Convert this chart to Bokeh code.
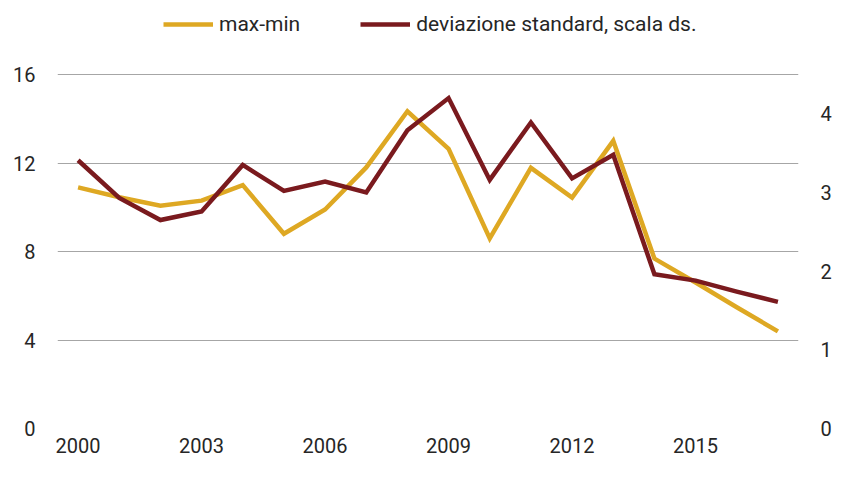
from bokeh.plotting import figure
from bokeh.models import Range1d, LinearAxis, FixedTicker, Legend, LegendItem
from bokeh.embed import file_html
from bokeh.resources import INLINE

years = list(range(2000, 2018))
max_min = [10.9, 10.45, 10.07, 10.3, 11.0, 8.8, 9.9, 11.8, 14.34, 12.64,
           8.59, 11.78, 10.44, 13.0, 7.68, 6.6, 5.48, 4.39]
dev_std = [3.41, 2.93, 2.65, 2.76, 3.35, 3.02, 3.14, 3.0, 3.79, 4.2,
           3.16, 3.89, 3.18, 3.48, 1.96, 1.88, 1.74, 1.61]
x_ticks = [2000, 2003, 2006, 2009, 2012, 2015]
left_ticks = [0, 4, 8, 12, 16]
right_ticks = [0, 1, 2, 3, 4]

FONT = "Roboto"
TXT = "#262626"
YEL = "#DEA823"
RED = "#7A1A1E"

W, H = 834, 463
BOTTOM = 35
FRAME_H = H - BOTTOM            # 428
SPAN = FRAME_H - 74             # pixels used by 0..16 (legend sits above)
LEFT_TOP = 16 * FRAME_H / SPAN
RIGHT_TOP = 4.5 * FRAME_H / SPAN

p = figure(width=W, height=H, output_backend="svg", toolbar_location=None,
           x_range=Range1d(1999.5, 2017.5), y_range=Range1d(0, LEFT_TOP),
           min_border_left=57, min_border_right=36, min_border_top=0,
           min_border_bottom=BOTTOM)
p.extra_y_ranges = {"sd": Range1d(0, RIGHT_TOP)}
p.outline_line_color = None
p.background_fill_color = "white"
p.border_fill_color = "white"

r1 = p.line(years, max_min, line_color=YEL, line_width=4.5, line_join="miter")
r2 = p.line(years, dev_std, line_color=RED, line_width=4.5, line_join="miter",
            y_range_name="sd")

p.xgrid.visible = False
p.ygrid.ticker = FixedTicker(ticks=left_ticks)
p.ygrid.grid_line_color = "#A6A6A6"
p.ygrid.grid_line_width = 1.2
p.ygrid.level = "underlay"

def style(ax, standoff):
    ax.axis_line_color = None
    ax.major_tick_line_color = None
    ax.minor_tick_line_color = None
    ax.major_tick_out = 0
    ax.major_tick_in = 0
    ax.minor_tick_out = 0
    ax.major_label_text_font = FONT
    ax.major_label_text_font_size = "20px"
    ax.major_label_text_color = TXT
    ax.major_label_standoff = standoff

style(p.xaxis[0], 9)
p.xaxis[0].ticker = FixedTicker(ticks=x_ticks)
style(p.yaxis[0], 22)
p.yaxis[0].ticker = FixedTicker(ticks=left_ticks)

ra = LinearAxis(y_range_name="sd", ticker=FixedTicker(ticks=right_ticks))
style(ra, 22)
p.add_layout(ra, "right")

legend = Legend(items=[LegendItem(label="max-min", renderers=[r1]),
                       LegendItem(label="deviazione standard, scala ds.", renderers=[r2])],
                orientation="horizontal", location=(106, FRAME_H - 36))
legend.label_text_font = FONT
legend.label_text_font_size = "21px"
legend.label_text_color = TXT
legend.glyph_width = 50
legend.glyph_height = 20
legend.label_standoff = 6
legend.spacing = 60
legend.border_line_color = None
legend.background_fill_alpha = 0
legend.padding = 0
legend.margin = 0
p.add_layout(legend)

open("out.html", "w").write(file_html(p, INLINE))
